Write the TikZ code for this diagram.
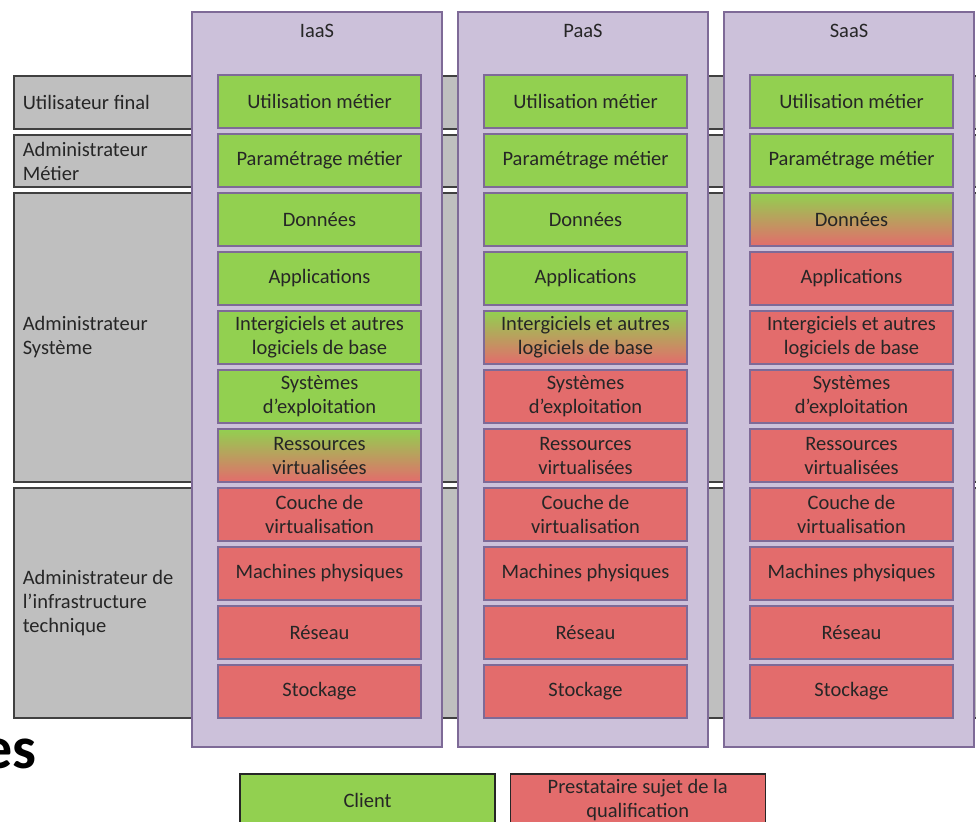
\documentclass[tikz,border=0pt]{standalone}
\usepackage{fontspec}
\setmainfont{Carlito}
\usetikzlibrary{positioning}
\definecolor{grn}{HTML}{92D050}
\definecolor{rd}{HTML}{E36C6C}
\definecolor{lav}{HTML}{CCC1DA}
\definecolor{lavd}{HTML}{7E6A97}
\definecolor{gry}{HTML}{BFBFBF}
\definecolor{gryd}{HTML}{404040}
\tikzset{
    band/.style={draw=gryd, fill=gry, line width=1.5pt, text width=960pt, align=flush left, inner xsep=9pt, anchor=west},
    col/.style={draw=lavd, fill=lav, line width=1.5pt, minimum width=250pt, minimum height=735pt},
    lay/.style={draw=lavd, line width=1.5pt, minimum width=203pt, minimum height=53pt, align=center, inner sep=0pt},
    gbox/.style={lay, fill=grn},
    rbox/.style={lay, fill=rd},
    mbox/.style={lay, top color=grn, bottom color=rd},
    leg/.style={draw=black!85, line width=1.2pt, minimum width=255pt, minimum height=53pt, align=center, inner sep=0pt},
    bd/.style={x=1pt, y=-1pt, font=\fontsize{20.5}{24}\selectfont, text=black!85}
}
\begin{document}
\begin{tikzpicture}[bd]
        \useasboundingbox (0,0) rectangle (976,821);
        \clip (0,0) rectangle (976,821);

        % roles
        \node[band, minimum height=53pt] (usr) at (13,102.5) {Utilisateur final};
        \node[band, minimum height=52pt] (adm) at (13,161) {Administrateur\\Métier};
        \node[band, minimum height=289pt] (sys) at (13,337.5) {Administrateur\\Système};
        \node[band, minimum height=230pt] (infra) at (13,603) {Administrateur de\\l’infrastructure\\technique};

        % service models
        \foreach \c/\xc/\xb/\g/\t in {iaas/317/319.5/7/IaaS, paas/583/585.5/5/PaaS, saas/849/851.5/3/SaaS} {
            \node[col] (\c) at (\xc,379.5) {};
            \node (\c-t) at (\xc,31) {\t};
            \foreach \r/\lbl in {1/Utilisation métier, 2/Paramétrage métier, 3/Données, 4/Applications,
                5/{Intergiciels et autres\\logiciels de base}, 6/{Systèmes\\d’exploitation},
                7/{Ressources\\virtualisées}, 8/{Couche de\\virtualisation}, 9/Machines physiques,
                10/Réseau, 11/Stockage} {
                \ifnum\r<\g \tikzset{cur/.style=gbox}\else
                    \ifnum\r=\g \tikzset{cur/.style=mbox}\else \tikzset{cur/.style=rbox}\fi\fi
                \node[cur] (\c-\r) at (\xb,{101.5+59*(\r-1)}) {\lbl};
            }
        }

        % legend
        \node[leg, fill=grn] (client) at (367.5,800.5) {Client};
        \node[leg, fill=rd, right=14pt of client] (prest) {Prestataire sujet de la\\qualification};
        \node[anchor=base east, font=\bfseries\fontsize{60}{60}\selectfont, text=black] (es) at (40,768) {es};
    \end{tikzpicture}
\end{document}
